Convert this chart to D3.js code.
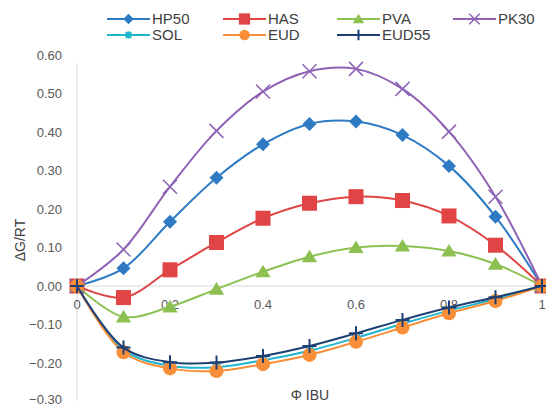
<!DOCTYPE html>
<html>
<head>
<meta charset="utf-8">
<script src="https://cdn.jsdelivr.net/npm/d3@7"></script>
<style>
  body { margin: 0; background: #fff; }
  text { font-family: "Liberation Sans", Arial, sans-serif; }
</style>
</head>
<body>
<div id="chart"></div>
<script>
var width = 546, height = 407;
var margin = {top: 55, right: 4, bottom: 6, left: 77};

// data
var phi = [0, 0.1, 0.2, 0.3, 0.4, 0.5, 0.6, 0.7, 0.8, 0.9, 1];
var names = ["HP50", "HAS", "PVA", "PK30", "SOL", "EUD", "EUD55"];
var HP50  = [0, 0.046, 0.167, 0.281, 0.368, 0.421, 0.427, 0.392, 0.312, 0.180, 0];
var HAS   = [0, -0.030, 0.042, 0.113, 0.176, 0.215, 0.232, 0.222, 0.182, 0.106, 0];
var PVA   = [0, -0.080, -0.054, -0.008, 0.037, 0.076, 0.100, 0.104, 0.091, 0.057, 0];
var PK30  = [0, 0.095, 0.258, 0.403, 0.505, 0.558, 0.564, 0.512, 0.401, 0.232, 0];
var SOL   = [0, -0.166, -0.207, -0.211, -0.193, -0.168, -0.135, -0.098, -0.064, -0.034, 0];
var EUD   = [0, -0.172, -0.214, -0.221, -0.203, -0.179, -0.145, -0.108, -0.071, -0.039, 0];
var EUD55 = [0, -0.160, -0.198, -0.199, -0.182, -0.156, -0.123, -0.088, -0.056, -0.029, 0];
var yTicks = [0.6, 0.5, 0.4, 0.3, 0.2, 0.1, 0, -0.1, -0.2, -0.3];
var xTicks = [0, 0.2, 0.4, 0.6, 0.8, 1];

var seriesValues = {HP50: HP50, HAS: HAS, PVA: PVA, PK30: PK30, SOL: SOL, EUD: EUD, EUD55: EUD55};
var colors = {HP50: "#2e7bc4", HAS: "#e04444", PVA: "#8cc152", PK30: "#8e62b5",
              SOL: "#1fb5cf", EUD: "#f88f38", EUD55: "#1d3f73"};
var markers = {HP50: "diamond", HAS: "square", PVA: "triangle", PK30: "x",
               SOL: "star", EUD: "circle", EUD55: "plus"};

var svg = d3.select("#chart").append("svg")
    .attr("width", width).attr("height", height);

var x = d3.scaleLinear().domain([0, 1]).range([margin.left, 542]);
var y = d3.scaleLinear().domain([-0.3, 0.6]).range([401.5, 55]);

// axes
svg.append("line")
    .attr("x1", x(0)).attr("x2", x(0))
    .attr("y1", y(0.6) + 8).attr("y2", y(-0.3) - 1)
    .attr("stroke", "#d9d9d9").attr("stroke-width", 1);
svg.append("line")
    .attr("x1", x(0)).attr("x2", x(1))
    .attr("y1", y(0)).attr("y2", y(0))
    .attr("stroke", "#d9d9d9").attr("stroke-width", 1);

svg.selectAll(".ytick").data(yTicks).enter().append("text")
    .attr("class", "ytick")
    .attr("x", 62).attr("y", function(d) { return Math.min(y(d), 399.5); })
    .attr("dy", "0.35em")
    .attr("text-anchor", "end")
    .attr("font-size", 13).attr("fill", "#595959")
    .text(function(d) { return d3.format(".2f")(d); });

svg.selectAll(".xtick").data(xTicks).enter().append("text")
    .attr("class", "xtick")
    .attr("x", function(d) { return x(d); }).attr("y", y(0) + 18)
    .attr("dy", "0.35em")
    .attr("text-anchor", "middle")
    .attr("font-size", 13).attr("fill", "#595959")
    .text(function(d) { return d; });

svg.append("text")
    .attr("x", 310).attr("y", 395).attr("dy", "0.35em")
    .attr("text-anchor", "middle").attr("font-size", 14).attr("fill", "#404040")
    .text("Φ IBU");

svg.append("text")
    .attr("transform", "translate(20,240) rotate(-90)")
    .attr("dy", "0.35em")
    .attr("text-anchor", "middle").attr("font-size", 14).attr("fill", "#404040")
    .text("ΔG/RT");

// marker drawing
function drawMarker(g, type, color, s) {
  if (type == "diamond") {
    g.append("path").attr("d", "M0,-" + s + "L" + s + ",0L0," + s + "L-" + s + ",0Z").attr("fill", color);
  } else if (type == "square") {
    g.append("rect").attr("x", -s).attr("y", -s).attr("width", 2 * s).attr("height", 2 * s).attr("fill", color);
  } else if (type == "triangle") {
    g.append("path").attr("d", "M0,-" + s + "L" + (s * 1.1) + "," + (s * 0.8) + "L-" + (s * 1.1) + "," + (s * 0.8) + "Z").attr("fill", color);
  } else if (type == "circle") {
    g.append("circle").attr("r", s).attr("fill", color);
  } else if (type == "x") {
    g.append("path").attr("d", "M-" + s + ",-" + s + "L" + s + "," + s + "M" + s + ",-" + s + "L-" + s + "," + s)
      .attr("stroke", color).attr("stroke-width", 1.5);
  } else if (type == "plus") {
    g.append("path").attr("d", "M-" + s + ",0L" + s + ",0M0,-" + s + "L0," + s)
      .attr("stroke", color).attr("stroke-width", 2);
  } else if (type == "star") {
    var a = s * 0.75;
    g.append("path").attr("d", "M-" + a + ",-" + a + "L" + a + "," + a + "M" + a + ",-" + a + "L-" + a + "," + a + "M0,-" + s + "L0," + s)
      .attr("stroke", color).attr("stroke-width", 2);
  }
}

var markerSize = {diamond: 7, square: 7.5, triangle: 7, x: 7, circle: 7, plus: 7, star: 5};

var line = d3.line()
    .x(function(d) { return x(d[0]); })
    .y(function(d) { return y(d[1]); })
    .curve(d3.curveCatmullRom.alpha(0.5));

var drawOrder = ["HP50", "HAS", "PVA", "PK30", "SOL", "EUD", "EUD55"];
drawOrder.forEach(function(name) {
  var pts = phi.map(function(p, i) { return [p, seriesValues[name][i]]; });
  svg.append("path")
      .datum(pts)
      .attr("fill", "none")
      .attr("stroke", colors[name])
      .attr("stroke-width", 2)
      .attr("d", line);
  pts.forEach(function(p) {
    var g = svg.append("g").attr("transform", "translate(" + x(p[0]) + "," + y(p[1]) + ")");
    drawMarker(g, markers[name], colors[name], markerSize[markers[name]]);
  });
});

// legend
var legCols = [107, 223, 337, 453];
var leg = svg.selectAll(".leg").data(names).enter().append("g")
    .attr("class", "leg")
    .attr("transform", function(d, i) {
      return "translate(" + legCols[i % 4] + "," + (i < 4 ? 19 : 35) + ")";
    });
leg.append("line")
    .attr("x1", 0).attr("x2", 43)
    .attr("stroke", function(d) { return colors[d]; })
    .attr("stroke-width", 2);
leg.each(function(d) {
  var g = d3.select(this).append("g").attr("transform", "translate(21.5,0)");
  drawMarker(g, markers[d], colors[d], markerSize[markers[d]] * 0.75);
});
leg.append("text")
    .attr("x", 45).attr("dy", "0.35em")
    .attr("font-size", 15).attr("fill", "#404040")
    .text(function(d) { return d; });
</script>
</body>
</html>
